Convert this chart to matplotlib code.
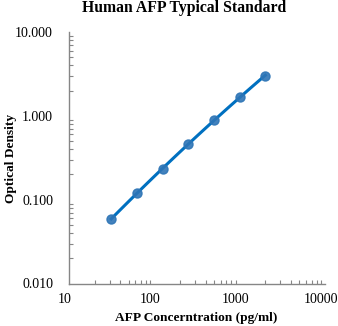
import numpy as np
import matplotlib.pyplot as plt
import matplotlib.transforms as mtransforms
from matplotlib.ticker import FixedLocator, LogLocator, NullFormatter

plt.rcParams['font.family'] = ['Liberation Serif', 'DejaVu Serif']

# AFP standard curve
conc = [31.25, 62.5, 125, 250, 500, 1000, 2000]
od = [0.059, 0.121, 0.23, 0.456, 0.89, 1.69, 3.0]
x_ticks = [10, 100, 1000, 10000]
x_tick_labels = ['10', '100', '1000', '10000']
y_ticks = [0.01, 0.1, 1, 10]
y_tick_labels = ['0.010', '0.100', '1.000', '10.000']

fig = plt.figure(figsize=(3.38, 3.26), dpi=100)
ax = fig.add_axes([69 / 338, 1 - 283.5 / 326, 256 / 338, 251.5 / 326])

# trendline: quadratic fit in log-log space
lx, ly = np.log10(conc), np.log10(od)
coef = np.polyfit(lx, ly, 2)
xs = np.linspace(lx[0], lx[-1], 100)
ax.plot(10 ** xs, 10 ** np.polyval(coef, xs), color='#0070C0', lw=2.2, zorder=2)
ax.plot(conc, od, 'o', color='#2E75B6', ms=6.5, alpha=0.9, zorder=3)

ax.set_xscale('log')
ax.set_yscale('log')
ax.set_xlim(10, 10000)
ax.set_ylim(0.01, 10)
ax.xaxis.set_major_locator(FixedLocator(x_ticks))
ax.set_xticklabels(x_tick_labels)
ax.yaxis.set_major_locator(FixedLocator(y_ticks))
ax.set_yticklabels(y_tick_labels)
for a in (ax.xaxis, ax.yaxis):
    a.set_minor_locator(LogLocator(base=10, subs=np.arange(2, 10)))
    a.set_minor_formatter(NullFormatter())

ax.tick_params(which='major', length=0, labelsize=10)
ax.tick_params(axis='x', which='major', pad=7)
ax.tick_params(axis='y', which='major', pad=11.5)
ax.tick_params(which='minor', direction='in', length=3, width=0.8, color='#868686')

# x labels sit a little left of their ticks
shift = mtransforms.ScaledTranslation(-4 / 100, 0, fig.dpi_scale_trans)
for lbl in ax.get_xticklabels():
    lbl.set_transform(lbl.get_transform() + shift)

for s in ('top', 'right'):
    ax.spines[s].set_visible(False)
for s in ('left', 'bottom'):
    ax.spines[s].set_color('#868686')
    ax.spines[s].set_linewidth(1.0)

fig.text(184 / 338, 1 - 8 / 326, 'Human AFP Typical Standard', ha='center', va='center',
         fontsize=11.3, fontweight='bold')
fig.text(196 / 338, 1 - 318 / 326, 'AFP Concerntration (pg/ml)', ha='center', va='center',
         fontsize=9.6, fontweight='bold')
fig.text(11 / 338, 1 - 158 / 326, 'Optical Density', ha='center', va='center',
         rotation=90, fontsize=9.6, fontweight='bold')

fig.savefig('out.png', dpi=100)
